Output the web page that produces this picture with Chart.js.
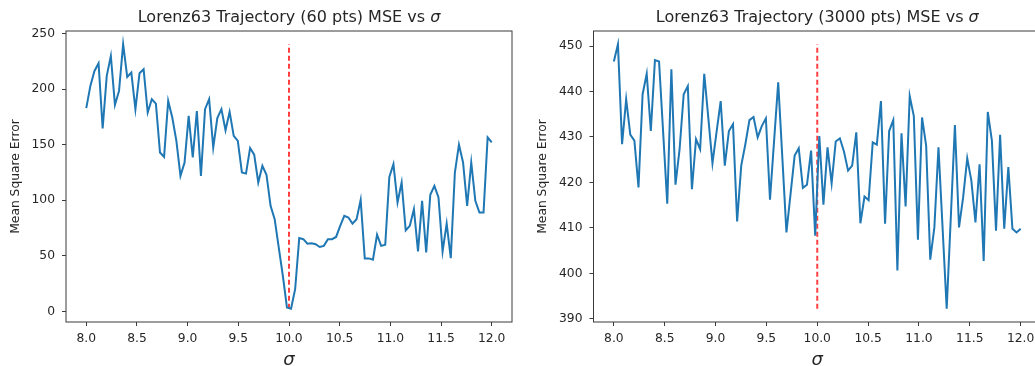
<!DOCTYPE html>
<html lang="en">
<head>
<meta charset="UTF-8" />
<title>Lorenz63 MSE vs sigma</title>
<script src="https://cdn.jsdelivr.net/npm/chart.js"></script>
<style>
    html, body { margin: 0; padding: 0; background: #fff; overflow: hidden; }
    body { width: 1035px; height: 366px; position: relative; }
    canvas { position: absolute; top: 0; }
    #leftChart { left: 0; }
    #rightChart { left: 520px; }
</style>
</head>
<body>

<canvas id="leftChart" width="520" height="372"></canvas>
<canvas id="rightChart" width="528" height="372"></canvas>

<script>
// sigma grid, same as np.linspace(8, 12, 100)
const sigmaGrid = Array.from({ length: 100 }, (_, i) => 8 + i * 4 / 99);
const trueSigma = 10.0;

// MSE
const mse60 = [
    182.9, 202.9, 216.4, 223.3, 164.6, 211.9, 229.9, 185.9, 198.4, 240.4,
    211.0, 214.9, 181.9, 214.3, 217.9, 179.0, 190.9, 187.0, 143.0, 139.1,
    189.4, 174.5, 153.5, 122.0, 134.0, 176.0, 138.5, 180.3, 122.0, 182.0,
    191.0, 147.5, 174.0, 182.0, 163.0, 179.5, 158.0, 153.5, 125.0, 124.0,
    147.0, 141.0, 116.0, 131.0, 123.0, 95.0, 83.0, 57.5, 32.0, 3.6,
    2.4, 20.0, 66.0, 65.0, 61.0, 61.4, 60.5, 58.0, 59.0, 65.0,
    65.0, 67.0, 77.0, 86.0, 84.5, 79.0, 83.0, 100.4, 47.7, 47.7,
    46.5, 69.0, 59.0, 60.0, 121.0, 132.5, 98.0, 116.0, 73.0, 77.0,
    92.0, 54.0, 99.5, 53.0, 105.0, 113.0, 102.5, 54.0, 79.0, 48.0,
    125.0, 150.0, 134.0, 95.0, 134.0, 99.5, 89.0, 89.0, 156.5, 152.0
];

// MSE
const mse3000 = [
    446.6, 450.4, 428.4, 438.3, 430.5, 429.2, 418.9, 439.4, 443.9, 431.3,
    446.9, 446.6, 431.0, 415.3, 444.9, 419.5, 427.3, 439.4, 441.2, 418.5,
    429.5, 427.3, 443.9, 434.1, 424.2, 431.1, 437.9, 423.7, 431.3, 432.8,
    411.4, 423.7, 428.4, 433.7, 434.4, 429.9, 432.4, 434.1, 416.2, 429.2,
    442.0, 425.5, 409.0, 417.4, 425.9, 427.5, 418.8, 419.5, 427.0, 408.3,
    430.2, 415.1, 427.7, 419.8, 429.0, 429.7, 426.8, 422.6, 423.7, 431.0,
    411.0, 416.9, 416.1, 428.8, 428.3, 437.9, 410.9, 431.3, 433.7, 400.6,
    430.8, 414.7, 439.0, 434.6, 407.4, 434.3, 428.1, 403.0, 410.1, 427.7,
    410.0, 392.2, 412.3, 432.6, 410.1, 416.7, 425.3, 420.4, 411.2, 424.0,
    402.7, 435.5, 429.2, 409.4, 430.5, 409.8, 423.4, 409.8, 409.0, 409.8
];

const xTicks = [8.0, 8.5, 9.0, 9.5, 10.0, 10.5, 11.0, 11.5, 12.0];
const yTicks60 = [0, 50, 100, 150, 200, 250];
const yTicks3000 = [390, 400, 410, 420, 430, 440, 450];

const FONT = '"DejaVu Sans", sans-serif';
const INK = '#262626';

// box round the plot area, like matplotlib spines
const framePlugin = {
    id: 'frame',
    afterDraw(chart) {
        const { ctx, chartArea: a } = chart;
        ctx.save();
        ctx.strokeStyle = '#3a3a3a';
        ctx.lineWidth = 1;
        ctx.strokeRect(a.left, a.top, a.right - a.left, a.bottom - a.top);
        ctx.restore();
    }
};

// title with an italic sigma at the end
const sigmaTitlePlugin = {
    id: 'sigmaTitle',
    afterDraw(chart, args, opts) {
        const { ctx, chartArea: a } = chart;
        const plain = '16px ' + FONT;
        const ital = 'italic 16px ' + FONT;
        ctx.save();
        ctx.font = plain;
        const w1 = ctx.measureText(opts.text).width;
        ctx.font = ital;
        const w2 = ctx.measureText('σ').width;
        let x = (a.left + a.right) / 2 - (w1 + w2) / 2;
        ctx.fillStyle = INK;
        ctx.textBaseline = 'middle';
        ctx.textAlign = 'left';
        ctx.font = plain;
        ctx.fillText(opts.text, x, opts.y);
        ctx.font = ital;
        ctx.fillText('σ', x + w1, opts.y);
        ctx.restore();
    }
};

function makeChart(canvasId, values, yTicks, titleText, yAxisWidth, padRight, yTitlePad) {
    const lo = Math.min(...values);
    const hi = Math.max(...values);
    const span = hi - lo;

    const ctx = document.getElementById(canvasId).getContext('2d');
    return new Chart(ctx, {
        type: 'line',
        data: {
            datasets: [{
                data: sigmaGrid.map((s, i) => ({ x: s, y: values[i] })),
                borderColor: '#1f77b4',
                borderWidth: 2,
                pointRadius: 0,
                tension: 0,
                fill: false
            }, {
                // dashed marker at the true sigma
                data: [{ x: trueSigma, y: lo }, { x: trueSigma, y: hi }],
                borderColor: 'rgba(255, 0, 0, 0.75)',
                borderWidth: 2,
                borderDash: [5, 3],
                pointRadius: 0,
                fill: false
            }]
        },
        options: {
            responsive: false,
            animation: false,
            devicePixelRatio: 1,
            layout: { padding: { left: 0, right: padRight, top: 31, bottom: 0 } },
            plugins: {
                legend: { display: false },
                tooltip: { enabled: false },
                sigmaTitle: { text: titleText, y: 17.5 }
            },
            scales: {
                x: {
                    type: 'linear',
                    min: 7.8,
                    max: 12.2,
                    afterBuildTicks: s => { s.ticks = xTicks.map(v => ({ value: v })); },
                    afterFit: s => { s.height = 50; },
                    border: { display: false },
                    grid: { drawOnChartArea: false, drawTicks: true, tickLength: 4, color: '#3a3a3a' },
                    ticks: {
                        autoSkip: false,
                        maxRotation: 0,
                        padding: 5.5,
                        color: INK,
                        font: { family: FONT, size: 12.3 },
                        callback: v => v.toFixed(1)
                    },
                    title: {
                        display: true,
                        text: 'σ',
                        color: INK,
                        font: { family: FONT, size: 18, style: 'italic', lineHeight: 1 },
                        padding: { top: 0, bottom: 3 }
                    }
                },
                y: {
                    type: 'linear',
                    min: lo - 0.05 * span,
                    max: hi + 0.05 * span,
                    afterBuildTicks: s => { s.ticks = yTicks.map(v => ({ value: v })); },
                    afterFit: s => { s.width = yAxisWidth; },
                    border: { display: false },
                    grid: { drawOnChartArea: false, drawTicks: true, tickLength: 4, color: '#3a3a3a' },
                    ticks: {
                        autoSkip: false,
                        padding: 7,
                        color: INK,
                        font: { family: FONT, size: 12.3 }
                    },
                    title: {
                        display: true,
                        text: 'Mean Square Error',
                        color: INK,
                        font: { family: FONT, size: 12.3, lineHeight: 1.2 },
                        padding: { top: yTitlePad, bottom: 0 }
                    }
                }
            }
        },
        plugins: [framePlugin, sigmaTitlePlugin]
    });
}

makeChart('leftChart', mse60, yTicks60, 'Lorenz63 Trajectory (60 pts) MSE vs ', 66, 8, 8.6);
makeChart('rightChart', mse3000, yTicks3000, 'Lorenz63 Trajectory (3000 pts) MSE vs ', 73.5, 7, 15.6);
</script>

</body>
</html>
